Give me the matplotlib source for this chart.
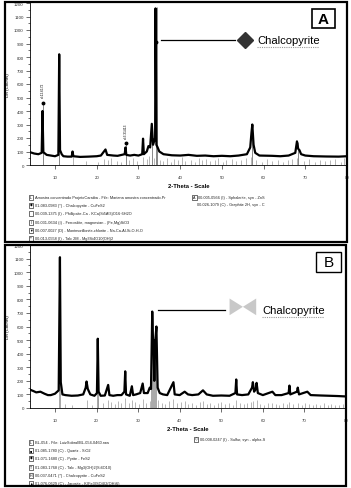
import numpy as np
import matplotlib
matplotlib.use("Agg")
import matplotlib.pyplot as plt
from matplotlib.patches import Rectangle, Polygon

W, H = 351, 489
plt.rcParams['font.family'] = ['Liberation Sans', 'DejaVu Sans']

# ---- panel A: measured pattern (2-theta, counts) ----
tt_a = [4, 5, 6, 6.8, 7.0, 7.2, 8, 9, 10, 10.8, 11.0, 11.2, 11.6, 12, 13, 14, 14.2, 14.4,
        16, 18, 20, 21, 22.1, 22.5, 24, 25, 26.7, 26.9, 27.1, 28, 29, 30, 30.9, 31.1, 31.3,
        32.0, 32.4, 32.8, 33.2, 33.5, 34.0, 34.1, 34.3, 34.6, 35.0, 36, 38, 40, 42, 44, 46,
        48, 50, 52, 54, 56, 56.8, 57.1, 57.3, 57.6, 58, 59, 62, 64, 66, 67.6, 68.0, 68.3,
        68.6, 69, 70, 72, 75, 78, 80]
cnt_a = [95, 85, 80, 90, 400, 95, 75, 70, 65, 75, 820, 110, 80, 65, 62, 62, 100, 65,
         60, 62, 65, 70, 115, 75, 70, 68, 80, 130, 75, 70, 75, 70, 80, 195, 80,
         100, 140, 130, 305, 150, 200, 1160, 150, 130, 100, 80, 72, 70, 75, 68, 70,
         65, 68, 65, 70, 80, 130, 240, 300, 150, 90, 70, 68, 65, 70, 90, 175, 120,
         110, 80, 70, 65, 63, 62, 65]

# reference sticks, panel A
ref_a_pos = [7.0, 11.0, 26.9, 33.2, 34.1, 34.5, 57.3, 68.2]
ref_a_h = [460, 820, 160, 300, 910, 1170, 300, 170]
dot_a_pos = [7.0, 26.9, 34.1]
dot_a_h = [460, 160, 910]
stk_a_pos = [14.2, 17.5, 20.3, 21.8, 22.6, 23.5, 24.9, 25.8, 27.8, 28.8, 29.6, 31.1, 32.0,
             32.5, 33.8, 35.2, 36.0, 36.9, 37.8, 38.6, 39.5, 40.4, 41.2, 42.6, 43.5, 44.4,
             45.3, 46.1, 47.2, 48.3, 49.1, 50.2, 51.0, 52.4, 53.3, 54.6, 55.8, 56.9, 58.3,
             59.6, 60.9, 62.1, 63.4, 64.7, 65.8, 66.9, 67.9, 69.8, 71.0, 72.4, 73.5, 74.7,
             76.0, 77.2, 78.5, 79.3]
stk_a_h = [60, 30, 25, 45, 35, 50, 30, 20, 40, 55, 30, 60, 45, 70, 55, 40, 30, 55, 25,
           45, 35, 60, 30, 40, 25, 50, 35, 45, 30, 40, 55, 25, 35, 45, 30, 40, 50, 60,
           35, 25, 45, 30, 40, 20, 35, 45, 55, 30, 45, 25, 40, 30, 35, 45, 25, 50]

# ---- panel B ----
tt_b = [4, 4.8, 5.5, 6.5, 7.5, 8.3, 9, 10, 10.9, 11.2, 11.4, 11.8, 12.5, 14, 15.5, 16.8,
        17.4, 17.6, 17.9, 18.5, 19.5, 20.1, 20.3, 20.5, 21, 22, 22.8, 23.1, 24, 25, 26,
        26.7, 26.9, 27.1, 28, 28.5, 28.8, 29.5, 30.5, 31.1, 31.4, 32.3, 32.8, 33.1, 33.4,
        33.6, 33.7, 33.9, 34.1, 34.4, 34.7, 35.2, 36, 37, 38.5, 38.8, 40, 41.2, 42, 43,
        44.5, 45.6, 46.5, 48, 50, 52, 53.4, 53.6, 53.8, 55, 56.5, 57.4, 57.6, 57.9, 58.3,
        58.5, 58.8, 60, 62.3, 63, 64.5, 66.2, 66.4, 66.6, 68.2, 68.4, 68.7, 70.7, 71.5,
        74, 76, 78, 80]
cnt_b = [135, 125, 115, 120, 105, 95, 95, 105, 130, 1110, 190, 100, 95, 90, 92, 100,
         150, 195, 140, 100, 90, 110, 510, 120, 90, 92, 170, 95, 90, 95, 95,
         120, 270, 100, 90, 160, 95, 100, 110, 180, 110, 110, 150, 140, 710,
         480, 500, 200, 480, 600, 150, 110, 100, 95, 190, 100, 95, 120, 100, 95,
         100, 130, 100, 90, 92, 90, 110, 210, 100, 95, 100, 150, 190, 120, 140,
         185, 110, 95, 120, 95, 95, 110, 165, 100, 120, 150, 100, 120, 95,
         92, 90, 88, 85]

ref_b_pos = [11.2, 20.3, 33.4, 33.8, 34.4]
ref_b_h = [380, 280, 700, 480, 600]
stk_b_pos = [12.5, 14.0, 17.6, 18.8, 20.3, 21.5, 22.8, 23.6, 24.4, 25.2, 26.0, 26.9, 27.7,
             28.5, 29.3, 30.2, 31.1, 32.0, 32.8, 34.9, 35.7, 36.5, 37.4, 38.5, 39.3, 40.2,
             41.2, 42.1, 43.0, 43.9, 44.8, 45.6, 46.5, 47.4, 48.3, 49.2, 50.0, 51.0, 51.9,
             52.8, 53.6, 54.5, 55.4, 56.3, 57.2, 57.6, 58.5, 59.4, 60.3, 61.2, 62.3, 63.1,
             64.0, 64.9, 65.8, 66.4, 67.3, 68.4, 69.3, 70.2, 71.1, 72.0, 72.9, 73.8, 74.7,
             75.6, 76.5, 77.4, 78.3, 79.2]
stk_b_h = [30, 20, 60, 25, 70, 35, 60, 45, 30, 55, 40, 70, 35, 60, 45, 30, 65, 40, 55,
           60, 40, 30, 50, 65, 35, 45, 55, 30, 40, 25, 45, 50, 30, 40, 25, 35, 45, 30,
           40, 25, 60, 35, 30, 40, 45, 55, 60, 30, 25, 35, 40, 30, 25, 35, 30, 45, 30,
           40, 25, 35, 30, 20, 30, 25, 35, 20, 30, 25, 20, 30]

legend_a = ["Amostra concentrado ProjetoCaraiba - File: Mariana amostra concentrado.Pr",
            "01-083-0983 (*) - Chalcopyrite - CuFeS2",
            "00-039-1375 (I) - Phillipsite-Ca - KCa(Si5Al3)O16·6H2O",
            "00-031-0634 (I) - Ferrosilite, magnesian - (Fe,Mg)SiO3",
            "00-007-0027 (D) - Montmorillonite-chlorite - Na-Ca-Al-Si-O-H-O",
            "00-013-0558 (I) - Talc 2M - Mg3Si4O10(OH)2"]
icons_a = ["L", "◆", "", "I", "▼", "**"]
legend_a2 = ["00-005-0566 (I) - Sphalerite, syn - ZnS",
             "00-026-1079 (C) - Graphite 2H, syn - C"]
legend_b = ["BL-054 - File: LuizSobral/BL-054-0460.raw",
            "01-085-1780 (C) - Quartz - SiO2",
            "01-071-1680 (C) - Pyrite - FeS2",
            "01-083-1768 (C) - Talc - Mg3(OH)2(Si4O10)",
            "00-037-0471 (*) - Chalcopyrite - CuFeS2",
            "01-076-0629 (C) - Jarosite - K(Fe3(SO4)2(OH)6)"]
icons_b = ["L", "■", "◆", "T", "H", "▲"]
legend_b2 = ["00-008-0247 (I) - Sulfur, syn - alpha-S"]


def fr(x0, y0, x1, y1):
    # pixel box (top-left origin) -> figure fraction rect
    return [x0 / W, 1 - y1 / H, (x1 - x0) / W, (y1 - y0) / H]


fig = plt.figure(figsize=(W / 100, H / 100), dpi=100)


def setup(ax, ytop):
    ax.set_xlim(4, 80)
    ax.set_ylim(0, ytop)
    ax.set_xticks(range(10, 81, 10))
    ax.set_yticks(range(0, 1201, 100))
    ax.set_yticks(range(50, 1201, 100), minor=True)
    ax.tick_params(axis='both', labelsize=3.2, width=0.5, length=3, pad=1.5, colors='#333')
    ax.tick_params(axis='y', which='minor', length=1.5, width=0.4)
    ax.tick_params(axis='x', pad=4)
    for s in ['top', 'right']:
        ax.spines[s].set_visible(False)
    for s in ['left', 'bottom']:
        ax.spines[s].set_linewidth(0.6)
    ax.set_xlabel("2-Theta - Scale", fontsize=4.2, fontweight='bold', labelpad=3)
    ax.set_ylabel("Lin (Counts)", fontsize=3.2, labelpad=3)


# panel A
axa = fig.add_axes(fr(30, 4, 347, 166))
setup(axa, 1200)
axa.vlines(stk_a_pos, 0, stk_a_h, color='#9a9a9a', lw=0.5)
axa.vlines(ref_a_pos, 0, ref_a_h, color='#888888', lw=0.7)
axa.plot(tt_a, cnt_a, color='black', lw=1.6)
axa.plot(dot_a_pos, dot_a_h, 'o', color='black', ms=1.8)
axa.text(7.0, 500, "d=12.6172", rotation=90, fontsize=2.3, ha='center', va='bottom')
axa.text(26.9, 200, "d=3.31413", rotation=90, fontsize=2.3, ha='center', va='bottom')
axa.plot([35.4, 53.1], [926, 926], color='black', lw=0.9)
axa.plot([55.6], [926], marker='D', color='#333333', ms=8)
axa.text(58.4, 926, "Chalcopyrite", fontsize=8.1, va='center', ha='left')
axa.plot([58.4, 73.3], [872, 872], color='#999999', lw=0.8, ls=(0, (1, 1)))

# panel B
axb = fig.add_axes(fr(30, 246, 346, 409))
setup(axb, 1173)
axb.vlines(stk_b_pos, 0, stk_b_h, color='#9a9a9a', lw=0.5)
axb.vlines(ref_b_pos, 0, ref_b_h, color='#999999', lw=1.2)
axb.plot(tt_b, cnt_b, color='black', lw=1.6)
axb.plot([34.7, 50.8], [719, 719], color='black', lw=0.9)
axb.add_patch(Polygon([(52.0, 806), (55.2, 745), (52.0, 683)], closed=True,
                      color='#c8c8c8', lw=0))
axb.add_patch(Polygon([(58.4, 806), (55.2, 745), (58.4, 683)], closed=True,
                      color='#c8c8c8', lw=0))
axb.text(59.9, 719, "Chalcopyrite", fontsize=8.1, va='center', ha='left')
axb.plot([59.9, 74.8], [668, 668], color='#999999', lw=0.8, ls=(0, (1, 1)))


def pbox(x0, y0, x1, y1, lw):
    fig.patches.append(Rectangle((x0 / W, 1 - y1 / H), (x1 - x0) / W, (y1 - y0) / H,
                                 transform=fig.transFigure, fill=False, ec='black', lw=lw))


def legend_rows(labels, icons, x, ys):
    for lab, ic, y in zip(labels, icons, ys):
        pbox(x - 2, y - 2.5, x + 2.5, y + 2.5, 0.4)
        if ic:
            fig.text((x + 0.25) / W, 1 - y / H, ic, fontsize=2.6, ha='center', va='center')
        fig.text((x + 4) / W, 1 - y / H, lab, fontsize=2.8, va='center', ha='left', color='#222')


legend_rows(legend_a, icons_a, 31, [198, 206, 214, 223, 231, 239])
legend_rows(legend_a2[:1], ["A"], 194, [198])
fig.text(197 / W, 1 - 205 / H, legend_a2[1], fontsize=2.8, va='center', ha='left', color='#222')
legend_rows(legend_b, icons_b, 31, [443, 451, 459, 468, 476, 484])
legend_rows(legend_b2, ["◇"], 196, [440])

# panel frames and letter boxes
pbox(5, 3, 347, 243, 1.6)
pbox(5, 246, 346, 487, 1.6)
pbox(312, 10, 335, 29, 1.2)
fig.text(323.5 / W, 1 - 19.5 / H, "A", fontsize=11, fontweight='bold', ha='center', va='center')
pbox(316, 253, 341, 273, 1.0)
fig.text(328.5 / W, 1 - 263 / H, "B", fontsize=11, ha='center', va='center')

fig.savefig("out.png", dpi=100)
